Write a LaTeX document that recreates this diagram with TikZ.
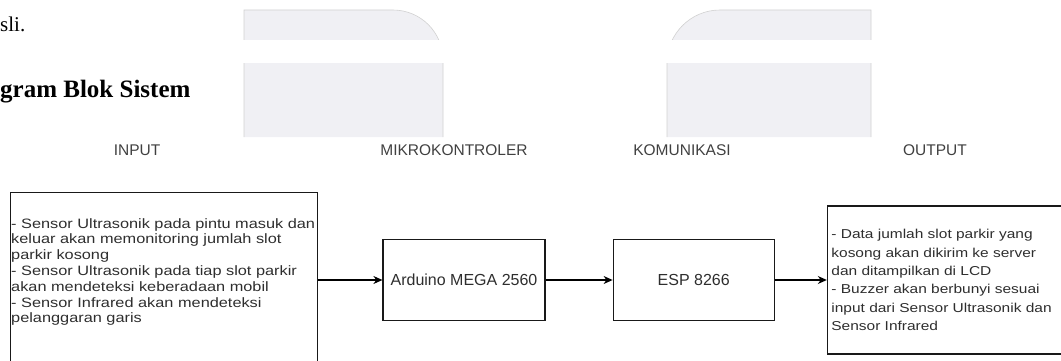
\documentclass[tikz,border=0pt]{standalone}
\usepackage{fontspec}
\setmainfont{Liberation Sans}
\newfontfamily\pagefont{Liberation Serif}
\newfontfamily\widefont[FakeStretch=1.2]{Liberation Sans}
\usetikzlibrary{positioning,arrows.meta,calc}
\definecolor{boxtext}{HTML}{2E2E2E}
\definecolor{lbltext}{HTML}{404040}
\definecolor{shade}{HTML}{F0F0F4}

\begin{document}
\begin{tikzpicture}[x=1pt, y=-1pt,
  node distance=67pt,
  blk/.style={draw=black!90, line width=1.2pt, minimum height=81pt, font=\fontsize{16}{19}\selectfont, text=boxtext},
  lst/.style={align=left, inner sep=0pt, text=boxtext},
  lbl/.style={font=\fontsize{15.5}{18}\selectfont, text=lbltext},
  arr/.style={-{Stealth[length=9pt,width=8pt]}, line width=1.1pt},
  sheet/.style={fill=shade, draw=black!18, line width=0.6pt},
  pg/.style={anchor=base west, inner sep=0pt},
]
\useasboundingbox (0,0) rectangle (1061,361);
\clip (0,0) rectangle (1061,361);

% page around the figure
\filldraw[sheet] (244,137) -- (244,10) -- (393,10) arc[start angle=90, end angle=0, radius=50pt] -- (443,137);
\filldraw[sheet] (871,137) -- (871,10) -- (720,10) arc[start angle=90, end angle=180, radius=53pt] -- (667,137);
\fill[white] (230,40) rectangle (890,63);
\node[pg, font=\pagefont\fontsize{21}{25}\selectfont] (pgline) at (0,32) {sli.};
\node[pg, font=\pagefont\bfseries\fontsize{25}{30}\selectfont] (pghead) at (0,97) {gram Blok Sistem};

% column labels
\node[lbl] (lin) at (137,150) {INPUT};
\node[lbl] (lmcu) at (454,150) {MIKROKONTROLER};
\node[lbl] (lkom) at (682,150) {KOMUNIKASI};
\node[lbl] (lout) at (935,150) {OUTPUT};

% blocks
\node[blk, minimum width=307pt, minimum height=185pt, anchor=north west] (inbox) at (10,192) {};
\node[lst, text width=305pt, font=\widefont\fontsize{13.6}{15.8}\selectfont, anchor=north west] (inlist) at (11,218)
  {- Sensor Ultrasonik pada pintu masuk dan\\
   keluar akan memonitoring jumlah slot\\
   parkir kosong\\
   - Sensor Ultrasonik pada tiap slot parkir\\
   akan mendeteksi keberadaan mobil\\
   - Sensor Infrared akan mendeteksi\\
   pelanggaran garis};
\node[blk, minimum width=162pt] (ardu) at (464,280) {Arduino MEGA 2560};
\node[blk, minimum width=161pt, right=of ardu] (esp) {ESP 8266};
\node[blk, minimum width=250pt, minimum height=148pt, right=52pt of esp,
  align=left, text width=242pt, inner xsep=4pt, font=\widefont\fontsize{12.9}{18.3}\selectfont] (outbox)
  {- Data jumlah slot parkir yang\\
   kosong akan dikirim ke server\\
   dan ditampilkan di LCD\\
   - Buzzer akan berbunyi sesuai\\
   input dari Sensor Ultrasonik dan\\
   Sensor Infrared};

% arrows
\draw[arr] (inbox.east |- ardu.west) -- (ardu.west);
\draw[arr] (ardu) -- (esp);
\draw[arr] (esp) -- (outbox);
\end{tikzpicture}
\end{document}
